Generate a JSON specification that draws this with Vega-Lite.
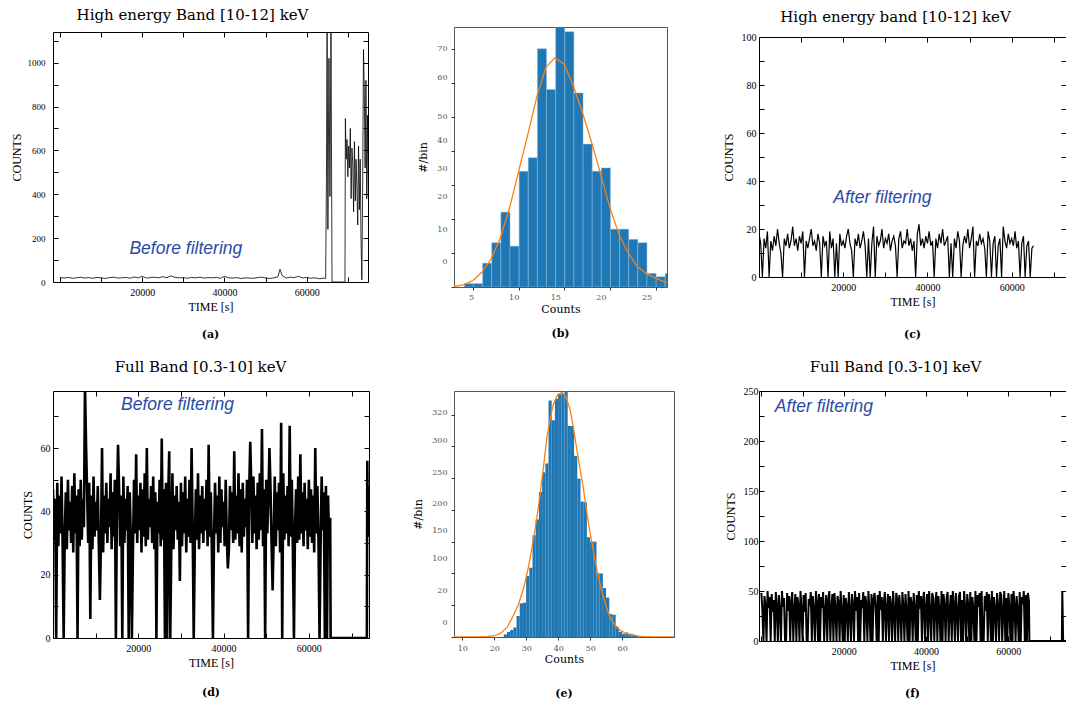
{
"$schema": "https://vega.github.io/schema/vega-lite/v6.json",
"background": "white",
"padding": {"left": 9, "top": 7, "right": 0, "bottom": 5},
"columns": 3,
"spacing": {"row": 104, "column": 85},
"bounds": "flush",
"align": "each",
"center": {"row": true, "column": false},
"config": {
 "title": {"font": "DejaVu Serif", "fontSize": 11, "fontWeight": "bold", "color": "black"},
 "axis": {"grid": false, "domain": false, "labelColor": "black", "titleColor": "black", "tickColor": "black", "titleFontWeight": "normal", "labelFont": "Liberation Serif", "titleFont": "Liberation Serif", "labelFontSize": 10, "titleFontSize": 12, "labelFlush": false, "labelOverlap": false, "labelBound": false, "tickWidth": 1}
},
"datasets": {
"a": [{"t":0,"c":20},{"t":1000,"c":18},{"t":2000,"c":21},{"t":3000,"c":17},{"t":4000,"c":19},{"t":5000,"c":22},{"t":6000,"c":18},{"t":7000,"c":20},{"t":8000,"c":17},{"t":9000,"c":21},{"t":10000,"c":19},{"t":11000,"c":16},{"t":12000,"c":20},{"t":13000,"c":22},{"t":14000,"c":18},{"t":15000,"c":19},{"t":16000,"c":21},{"t":17000,"c":17},{"t":18000,"c":23},{"t":19000,"c":19},{"t":20000,"c":26},{"t":21000,"c":18},{"t":22000,"c":20},{"t":23000,"c":22},{"t":24000,"c":19},{"t":25000,"c":24},{"t":26000,"c":20},{"t":27000,"c":28},{"t":28000,"c":21},{"t":29000,"c":19},{"t":30000,"c":20},{"t":31000,"c":17},{"t":32000,"c":21},{"t":33000,"c":19},{"t":34000,"c":22},{"t":35000,"c":18},{"t":36000,"c":20},{"t":37000,"c":19},{"t":38000,"c":21},{"t":39000,"c":17},{"t":40000,"c":26},{"t":41000,"c":19},{"t":42000,"c":18},{"t":43000,"c":20},{"t":44000,"c":16},{"t":45000,"c":19},{"t":46000,"c":18},{"t":47000,"c":17},{"t":48000,"c":20},{"t":49000,"c":22},{"t":50000,"c":18},{"t":51000,"c":16},{"t":52000,"c":19},{"t":53000,"c":24},{"t":53500,"c":58},{"t":54000,"c":30},{"t":55000,"c":18},{"t":56000,"c":22},{"t":57000,"c":20},{"t":58000,"c":26},{"t":59000,"c":18},{"t":60000,"c":21},{"t":61000,"c":17},{"t":62000,"c":19},{"t":63000,"c":15},{"t":64000,"c":18},{"t":64600,"c":16},{"t":64800,"c":480},{"t":64950,"c":1200},{"t":65150,"c":240},{"t":65400,"c":1020},{"t":65650,"c":390},{"t":65900,"c":1200},{"t":66150,"c":0},{"t":69300,"c":0},{"t":69400,"c":745},{"t":69600,"c":560},{"t":69800,"c":650},{"t":70000,"c":480},{"t":70200,"c":620},{"t":70400,"c":520},{"t":70600,"c":700},{"t":70800,"c":380},{"t":71000,"c":610},{"t":71200,"c":540},{"t":71400,"c":320},{"t":71600,"c":640},{"t":71800,"c":370},{"t":72000,"c":560},{"t":72200,"c":430},{"t":72400,"c":260},{"t":72600,"c":620},{"t":72800,"c":330},{"t":73000,"c":560},{"t":73200,"c":200},{"t":73400,"c":10},{"t":73600,"c":420},{"t":73800,"c":1060},{"t":74000,"c":870},{"t":74200,"c":520},{"t":74400,"c":920},{"t":74600,"c":380},{"t":74800,"c":760},{"t":75000,"c":420}],
"bh": [{"lo":4,"hi":5,"n":1},{"lo":5,"hi":6,"n":1},{"lo":6,"hi":7,"n":7},{"lo":7,"hi":8,"n":13},{"lo":8,"hi":9,"n":22},{"lo":9,"hi":10,"n":12},{"lo":10,"hi":11,"n":34},{"lo":11,"hi":12,"n":38},{"lo":12,"hi":13,"n":70},{"lo":13,"hi":14,"n":58},{"lo":14,"hi":15,"n":78},{"lo":15,"hi":16,"n":75},{"lo":16,"hi":17,"n":57},{"lo":17,"hi":18,"n":42},{"lo":18,"hi":19,"n":34},{"lo":19,"hi":20,"n":35},{"lo":20,"hi":21,"n":17},{"lo":21,"hi":22,"n":17},{"lo":22,"hi":23,"n":14},{"lo":23,"hi":24,"n":13},{"lo":24,"hi":25,"n":4},{"lo":25,"hi":26,"n":3},{"lo":26,"hi":27,"n":4}],
"bf": [{"x":2.92,"f":0.1},{"x":4,"f":0.7},{"x":5,"f":1.9},{"x":6,"f":4.4},{"x":7,"f":8.3},{"x":8,"f":14.4},{"x":9,"f":23.2},{"x":10,"f":34},{"x":11,"f":44.8},{"x":12,"f":56},{"x":13,"f":64.6},{"x":14,"f":67.4},{"x":15,"f":65.4},{"x":16,"f":59},{"x":17,"f":51.2},{"x":18,"f":42.4},{"x":19,"f":33},{"x":20,"f":23.2},{"x":21,"f":15.4},{"x":22,"f":10},{"x":23,"f":6},{"x":24,"f":3.9},{"x":25,"f":2.6},{"x":26,"f":1.5},{"x":26.25,"f":1.3}],
"c": [{"t":0,"c":18},{"t":400,"c":14},{"t":800,"c":0},{"t":1200,"c":16},{"t":1600,"c":12},{"t":2000,"c":19},{"t":2400,"c":0},{"t":2800,"c":15},{"t":3200,"c":11},{"t":3600,"c":17},{"t":4000,"c":13},{"t":4400,"c":20},{"t":4800,"c":14},{"t":5200,"c":10},{"t":5600,"c":0},{"t":6000,"c":16},{"t":6400,"c":13},{"t":6800,"c":18},{"t":7200,"c":12},{"t":7600,"c":15},{"t":8000,"c":21},{"t":8400,"c":13},{"t":8800,"c":16},{"t":9200,"c":11},{"t":9600,"c":17},{"t":10000,"c":14},{"t":10400,"c":19},{"t":10800,"c":0},{"t":11200,"c":15},{"t":11600,"c":12},{"t":12000,"c":16},{"t":12400,"c":20},{"t":12800,"c":13},{"t":13200,"c":15},{"t":13600,"c":11},{"t":14000,"c":18},{"t":14400,"c":14},{"t":14800,"c":0},{"t":15200,"c":17},{"t":15600,"c":13},{"t":16000,"c":15},{"t":16400,"c":0},{"t":16800,"c":19},{"t":17200,"c":12},{"t":17600,"c":16},{"t":18000,"c":0},{"t":18400,"c":14},{"t":18800,"c":0},{"t":19200,"c":18},{"t":19600,"c":13},{"t":20000,"c":15},{"t":20400,"c":12},{"t":20800,"c":17},{"t":21200,"c":20},{"t":21600,"c":14},{"t":22000,"c":11},{"t":22400,"c":0},{"t":22800,"c":16},{"t":23200,"c":13},{"t":23600,"c":18},{"t":24000,"c":12},{"t":24400,"c":15},{"t":24800,"c":19},{"t":25200,"c":13},{"t":25600,"c":0},{"t":26000,"c":16},{"t":26400,"c":0},{"t":26800,"c":14},{"t":27200,"c":21},{"t":27600,"c":0},{"t":28000,"c":17},{"t":28400,"c":13},{"t":28800,"c":15},{"t":29200,"c":20},{"t":29600,"c":12},{"t":30000,"c":16},{"t":30400,"c":14},{"t":30800,"c":18},{"t":31200,"c":11},{"t":31600,"c":15},{"t":32000,"c":17},{"t":32400,"c":13},{"t":32800,"c":0},{"t":33200,"c":16},{"t":33600,"c":19},{"t":34000,"c":12},{"t":34400,"c":15},{"t":34800,"c":14},{"t":35200,"c":20},{"t":35600,"c":13},{"t":36000,"c":16},{"t":36400,"c":11},{"t":36800,"c":15},{"t":37200,"c":0},{"t":37600,"c":18},{"t":38000,"c":22},{"t":38400,"c":13},{"t":38800,"c":16},{"t":39200,"c":12},{"t":39600,"c":17},{"t":40000,"c":14},{"t":40400,"c":19},{"t":40800,"c":13},{"t":41200,"c":15},{"t":41600,"c":0},{"t":42000,"c":16},{"t":42400,"c":12},{"t":42800,"c":18},{"t":43200,"c":14},{"t":43600,"c":20},{"t":44000,"c":13},{"t":44400,"c":15},{"t":44800,"c":17},{"t":45200,"c":0},{"t":45600,"c":14},{"t":46000,"c":0},{"t":46400,"c":16},{"t":46800,"c":12},{"t":47200,"c":19},{"t":47600,"c":15},{"t":48000,"c":0},{"t":48400,"c":13},{"t":48800,"c":17},{"t":49200,"c":14},{"t":49600,"c":20},{"t":50000,"c":12},{"t":50400,"c":16},{"t":50800,"c":21},{"t":51200,"c":0},{"t":51600,"c":15},{"t":52000,"c":13},{"t":52400,"c":18},{"t":52800,"c":14},{"t":53200,"c":16},{"t":53600,"c":12},{"t":54000,"c":0},{"t":54400,"c":19},{"t":54800,"c":15},{"t":55200,"c":0},{"t":55600,"c":14},{"t":56000,"c":17},{"t":56400,"c":0},{"t":56800,"c":13},{"t":57200,"c":16},{"t":57600,"c":0},{"t":58000,"c":21},{"t":58400,"c":15},{"t":58800,"c":12},{"t":59200,"c":18},{"t":59600,"c":14},{"t":60000,"c":16},{"t":60400,"c":13},{"t":60800,"c":19},{"t":61200,"c":12},{"t":61600,"c":15},{"t":62000,"c":0},{"t":62400,"c":14},{"t":62800,"c":17},{"t":63200,"c":0},{"t":63600,"c":13},{"t":64000,"c":15},{"t":64400,"c":0},{"t":64800,"c":12},{"t":65200,"c":13}],
"d": [{"t":0,"c":47},{"t":250,"c":31},{"t":500,"c":44},{"t":750,"c":0},{"t":1000,"c":49},{"t":1250,"c":29},{"t":1500,"c":45},{"t":1750,"c":33},{"t":2000,"c":51},{"t":2250,"c":30},{"t":2500,"c":0},{"t":2750,"c":32},{"t":3000,"c":46},{"t":3250,"c":28},{"t":3500,"c":50},{"t":3750,"c":34},{"t":4000,"c":43},{"t":4250,"c":30},{"t":4500,"c":48},{"t":4750,"c":27},{"t":5000,"c":52},{"t":5250,"c":33},{"t":5500,"c":45},{"t":5750,"c":0},{"t":6000,"c":47},{"t":6250,"c":29},{"t":6500,"c":50},{"t":6750,"c":31},{"t":7000,"c":44},{"t":7250,"c":35},{"t":7500,"c":80},{"t":7750,"c":61},{"t":8000,"c":46},{"t":8250,"c":30},{"t":8500,"c":49},{"t":8750,"c":6},{"t":9000,"c":45},{"t":9250,"c":28},{"t":9500,"c":51},{"t":9750,"c":32},{"t":10000,"c":43},{"t":10250,"c":34},{"t":10500,"c":48},{"t":10750,"c":29},{"t":11000,"c":12},{"t":11250,"c":31},{"t":11500,"c":60},{"t":11750,"c":27},{"t":12000,"c":45},{"t":12250,"c":33},{"t":12500,"c":49},{"t":12750,"c":30},{"t":13000,"c":44},{"t":13250,"c":35},{"t":13500,"c":52},{"t":13750,"c":28},{"t":14000,"c":46},{"t":14250,"c":32},{"t":14500,"c":50},{"t":14750,"c":0},{"t":15000,"c":43},{"t":15250,"c":61},{"t":15500,"c":47},{"t":15750,"c":29},{"t":16000,"c":45},{"t":16250,"c":0},{"t":16500,"c":51},{"t":16750,"c":30},{"t":17000,"c":44},{"t":17250,"c":34},{"t":17500,"c":48},{"t":17750,"c":0},{"t":18000,"c":46},{"t":18250,"c":31},{"t":18500,"c":0},{"t":18750,"c":28},{"t":19000,"c":50},{"t":19250,"c":33},{"t":19500,"c":58},{"t":19750,"c":30},{"t":20000,"c":45},{"t":20250,"c":34},{"t":20500,"c":49},{"t":20750,"c":27},{"t":21000,"c":47},{"t":21250,"c":32},{"t":21500,"c":52},{"t":21750,"c":29},{"t":22000,"c":60},{"t":22250,"c":31},{"t":22500,"c":44},{"t":22750,"c":35},{"t":23000,"c":48},{"t":23250,"c":30},{"t":23500,"c":51},{"t":23750,"c":28},{"t":24000,"c":46},{"t":24250,"c":0},{"t":24500,"c":43},{"t":24750,"c":33},{"t":25000,"c":50},{"t":25250,"c":29},{"t":25500,"c":63},{"t":25750,"c":31},{"t":26000,"c":47},{"t":26250,"c":0},{"t":26500,"c":49},{"t":26750,"c":0},{"t":27000,"c":44},{"t":27250,"c":59},{"t":27500,"c":0},{"t":27750,"c":30},{"t":28000,"c":52},{"t":28250,"c":28},{"t":28500,"c":45},{"t":28750,"c":34},{"t":29000,"c":48},{"t":29250,"c":31},{"t":29500,"c":43},{"t":29750,"c":18},{"t":30000,"c":49},{"t":30250,"c":29},{"t":30500,"c":46},{"t":30750,"c":33},{"t":31000,"c":51},{"t":31250,"c":27},{"t":31500,"c":44},{"t":31750,"c":32},{"t":32000,"c":50},{"t":32250,"c":30},{"t":32500,"c":60},{"t":32750,"c":35},{"t":33000,"c":0},{"t":33250,"c":29},{"t":33500,"c":47},{"t":33750,"c":31},{"t":34000,"c":52},{"t":34250,"c":28},{"t":34500,"c":45},{"t":34750,"c":33},{"t":35000,"c":48},{"t":35250,"c":30},{"t":35500,"c":44},{"t":35750,"c":34},{"t":36000,"c":50},{"t":36250,"c":29},{"t":36500,"c":61},{"t":36750,"c":32},{"t":37000,"c":46},{"t":37250,"c":28},{"t":37500,"c":0},{"t":37750,"c":31},{"t":38000,"c":49},{"t":38250,"c":33},{"t":38500,"c":45},{"t":38750,"c":27},{"t":39000,"c":51},{"t":39250,"c":30},{"t":39500,"c":47},{"t":39750,"c":35},{"t":40000,"c":43},{"t":40250,"c":29},{"t":40500,"c":50},{"t":40750,"c":32},{"t":41000,"c":22},{"t":41250,"c":28},{"t":41500,"c":48},{"t":41750,"c":34},{"t":42000,"c":46},{"t":42250,"c":30},{"t":42500,"c":59},{"t":42750,"c":31},{"t":43000,"c":45},{"t":43250,"c":33},{"t":43500,"c":52},{"t":43750,"c":29},{"t":44000,"c":47},{"t":44250,"c":27},{"t":44500,"c":49},{"t":44750,"c":32},{"t":45000,"c":44},{"t":45250,"c":35},{"t":45500,"c":50},{"t":45750,"c":0},{"t":46000,"c":46},{"t":46250,"c":62},{"t":46500,"c":48},{"t":46750,"c":30},{"t":47000,"c":51},{"t":47250,"c":33},{"t":47500,"c":45},{"t":47750,"c":28},{"t":48000,"c":49},{"t":48250,"c":31},{"t":48500,"c":52},{"t":48750,"c":34},{"t":49000,"c":66},{"t":49250,"c":29},{"t":49500,"c":47},{"t":49750,"c":0},{"t":50000,"c":50},{"t":50250,"c":33},{"t":50500,"c":44},{"t":50750,"c":60},{"t":51000,"c":48},{"t":51250,"c":30},{"t":51500,"c":15},{"t":51750,"c":32},{"t":52000,"c":51},{"t":52250,"c":29},{"t":52500,"c":46},{"t":52750,"c":34},{"t":53000,"c":49},{"t":53250,"c":27},{"t":53500,"c":68},{"t":53750,"c":0},{"t":54000,"c":52},{"t":54250,"c":31},{"t":54500,"c":45},{"t":54750,"c":33},{"t":55000,"c":48},{"t":55250,"c":29},{"t":55500,"c":67},{"t":55750,"c":32},{"t":56000,"c":50},{"t":56250,"c":28},{"t":56500,"c":0},{"t":56750,"c":35},{"t":57000,"c":47},{"t":57250,"c":30},{"t":57500,"c":51},{"t":57750,"c":31},{"t":58000,"c":58},{"t":58250,"c":33},{"t":58500,"c":46},{"t":58750,"c":29},{"t":59000,"c":49},{"t":59250,"c":34},{"t":59500,"c":44},{"t":59750,"c":28},{"t":60000,"c":50},{"t":60250,"c":32},{"t":60500,"c":47},{"t":60750,"c":30},{"t":61000,"c":45},{"t":61250,"c":27},{"t":61500,"c":60},{"t":61750,"c":33},{"t":62000,"c":48},{"t":62250,"c":31},{"t":62500,"c":0},{"t":62750,"c":29},{"t":63000,"c":51},{"t":63250,"c":34},{"t":63500,"c":46},{"t":63750,"c":0},{"t":64000,"c":48},{"t":64250,"c":0},{"t":64500,"c":45},{"t":64750,"c":30},{"t":65000,"c":38},{"t":65100,"c":0},{"t":73600,"c":0},{"t":73700,"c":56},{"t":73850,"c":32},{"t":74000,"c":48}],
"eh": [{"lo":22.8,"hi":23.8,"n":4},{"lo":23.8,"hi":24.8,"n":8},{"lo":24.8,"hi":25.8,"n":11},{"lo":25.8,"hi":26.8,"n":15},{"lo":26.8,"hi":27.8,"n":33},{"lo":27.8,"hi":28.8,"n":53},{"lo":28.8,"hi":29.8,"n":54},{"lo":29.8,"hi":30.8,"n":96},{"lo":30.8,"hi":31.8,"n":109},{"lo":31.8,"hi":32.8,"n":160},{"lo":32.8,"hi":33.8,"n":185},{"lo":33.8,"hi":34.8,"n":228},{"lo":34.8,"hi":35.8,"n":259},{"lo":35.8,"hi":36.8,"n":273},{"lo":36.8,"hi":37.8,"n":372},{"lo":37.8,"hi":38.8,"n":341},{"lo":38.8,"hi":39.8,"n":375},{"lo":39.8,"hi":40.8,"n":382},{"lo":40.8,"hi":41.8,"n":383},{"lo":41.8,"hi":42.8,"n":395},{"lo":42.8,"hi":43.8,"n":332},{"lo":43.8,"hi":44.8,"n":332},{"lo":44.8,"hi":45.8,"n":285},{"lo":45.8,"hi":46.8,"n":249},{"lo":46.8,"hi":47.8,"n":213},{"lo":47.8,"hi":48.8,"n":212},{"lo":48.8,"hi":49.8,"n":157},{"lo":49.8,"hi":50.8,"n":150},{"lo":50.8,"hi":51.8,"n":150},{"lo":51.8,"hi":52.8,"n":100},{"lo":52.8,"hi":53.8,"n":100},{"lo":53.8,"hi":54.8,"n":77},{"lo":54.8,"hi":55.8,"n":62},{"lo":55.8,"hi":56.8,"n":36},{"lo":56.8,"hi":57.8,"n":35},{"lo":57.8,"hi":58.8,"n":16},{"lo":58.8,"hi":59.8,"n":8},{"lo":59.8,"hi":60.8,"n":5},{"lo":60.8,"hi":61.8,"n":7},{"lo":61.8,"hi":62.8,"n":5},{"lo":62.8,"hi":63.8,"n":4},{"lo":63.8,"hi":64.8,"n":2}],
"ef": [{"x":7.4,"f":0},{"x":15,"f":0.2},{"x":18,"f":0.8},{"x":20,"f":2},{"x":22,"f":6},{"x":24,"f":15},{"x":26.1,"f":35},{"x":27.6,"f":52},{"x":29.2,"f":77},{"x":30.8,"f":113},{"x":32.3,"f":155},{"x":33.3,"f":188},{"x":34.3,"f":223},{"x":35.4,"f":268},{"x":36.4,"f":312},{"x":37.4,"f":342},{"x":38.4,"f":365},{"x":39.8,"f":381},{"x":41.2,"f":385},{"x":42.4,"f":377},{"x":43.6,"f":360},{"x":44.6,"f":333},{"x":45.6,"f":302},{"x":46.6,"f":271},{"x":47.7,"f":239},{"x":48.7,"f":204},{"x":49.7,"f":171},{"x":50.8,"f":140},{"x":51.8,"f":113},{"x":52.8,"f":89},{"x":53.8,"f":69},{"x":54.9,"f":50},{"x":55.9,"f":35},{"x":56.9,"f":25},{"x":57.9,"f":18},{"x":59.5,"f":10},{"x":61,"f":6},{"x":63,"f":3},{"x":66,"f":1},{"x":70,"f":0.3},{"x":76.2,"f":0}],
"f": [{"t":0,"c":48},{"t":250,"c":30},{"t":500,"c":0},{"t":750,"c":45},{"t":1000,"c":36},{"t":1250,"c":0},{"t":1500,"c":50},{"t":1750,"c":33},{"t":2000,"c":44},{"t":2250,"c":0},{"t":2500,"c":47},{"t":2750,"c":29},{"t":3000,"c":41},{"t":3250,"c":0},{"t":3500,"c":49},{"t":3750,"c":35},{"t":4000,"c":0},{"t":4250,"c":46},{"t":4500,"c":31},{"t":4750,"c":0},{"t":5000,"c":50},{"t":5250,"c":34},{"t":5500,"c":43},{"t":5750,"c":0},{"t":6000,"c":0},{"t":6250,"c":48},{"t":6500,"c":30},{"t":6750,"c":45},{"t":7000,"c":0},{"t":7250,"c":39},{"t":7500,"c":49},{"t":7750,"c":0},{"t":8000,"c":32},{"t":8250,"c":47},{"t":8500,"c":0},{"t":8750,"c":44},{"t":9000,"c":36},{"t":9250,"c":0},{"t":9500,"c":50},{"t":9750,"c":31},{"t":10000,"c":0},{"t":10250,"c":46},{"t":10500,"c":29},{"t":10750,"c":48},{"t":11000,"c":0},{"t":11250,"c":0},{"t":11500,"c":42},{"t":11750,"c":35},{"t":12000,"c":49},{"t":12250,"c":0},{"t":12500,"c":45},{"t":12750,"c":31},{"t":13000,"c":0},{"t":13250,"c":50},{"t":13500,"c":38},{"t":13750,"c":0},{"t":14000,"c":47},{"t":14250,"c":0},{"t":14500,"c":44},{"t":14750,"c":33},{"t":15000,"c":49},{"t":15250,"c":0},{"t":15500,"c":30},{"t":15750,"c":46},{"t":16000,"c":0},{"t":16250,"c":41},{"t":16500,"c":50},{"t":16750,"c":0},{"t":17000,"c":34},{"t":17250,"c":47},{"t":17500,"c":0},{"t":17750,"c":48},{"t":18000,"c":32},{"t":18250,"c":0},{"t":18500,"c":45},{"t":18750,"c":39},{"t":19000,"c":0},{"t":19250,"c":50},{"t":19500,"c":29},{"t":19750,"c":0},{"t":20000,"c":46},{"t":20250,"c":0},{"t":20500,"c":43},{"t":20750,"c":35},{"t":21000,"c":0},{"t":21250,"c":49},{"t":21500,"c":31},{"t":21750,"c":0},{"t":22000,"c":47},{"t":22250,"c":36},{"t":22500,"c":0},{"t":22750,"c":50},{"t":23000,"c":30},{"t":23250,"c":44},{"t":23500,"c":0},{"t":23750,"c":48},{"t":24000,"c":0},{"t":24250,"c":41},{"t":24500,"c":33},{"t":24750,"c":49},{"t":25000,"c":0},{"t":25250,"c":45},{"t":25500,"c":37},{"t":25750,"c":0},{"t":26000,"c":50},{"t":26250,"c":30},{"t":26500,"c":0},{"t":26750,"c":47},{"t":27000,"c":0},{"t":27250,"c":42},{"t":27500,"c":48},{"t":27750,"c":34},{"t":28000,"c":0},{"t":28250,"c":46},{"t":28500,"c":0},{"t":28750,"c":50},{"t":29000,"c":31},{"t":29250,"c":44},{"t":29500,"c":0},{"t":29750,"c":39},{"t":30000,"c":49},{"t":30250,"c":0},{"t":30500,"c":33},{"t":30750,"c":47},{"t":31000,"c":0},{"t":31250,"c":45},{"t":31500,"c":36},{"t":31750,"c":0},{"t":32000,"c":50},{"t":32250,"c":29},{"t":32500,"c":0},{"t":32750,"c":48},{"t":33000,"c":42},{"t":33250,"c":0},{"t":33500,"c":46},{"t":33750,"c":31},{"t":34000,"c":0},{"t":34250,"c":49},{"t":34500,"c":35},{"t":34750,"c":0},{"t":35000,"c":47},{"t":35250,"c":30},{"t":35500,"c":0},{"t":35750,"c":50},{"t":36000,"c":0},{"t":36250,"c":44},{"t":36500,"c":38},{"t":36750,"c":0},{"t":37000,"c":48},{"t":37250,"c":33},{"t":37500,"c":0},{"t":37750,"c":46},{"t":38000,"c":0},{"t":38250,"c":50},{"t":38500,"c":32},{"t":38750,"c":45},{"t":39000,"c":0},{"t":39250,"c":41},{"t":39500,"c":49},{"t":39750,"c":0},{"t":40000,"c":34},{"t":40250,"c":47},{"t":40500,"c":0},{"t":40750,"c":50},{"t":41000,"c":30},{"t":41250,"c":0},{"t":41500,"c":48},{"t":41750,"c":43},{"t":42000,"c":0},{"t":42250,"c":36},{"t":42500,"c":49},{"t":42750,"c":0},{"t":43000,"c":45},{"t":43250,"c":31},{"t":43500,"c":0},{"t":43750,"c":50},{"t":44000,"c":0},{"t":44250,"c":47},{"t":44500,"c":35},{"t":44750,"c":0},{"t":45000,"c":44},{"t":45250,"c":49},{"t":45500,"c":0},{"t":45750,"c":32},{"t":46000,"c":46},{"t":46250,"c":0},{"t":46500,"c":50},{"t":46750,"c":37},{"t":47000,"c":0},{"t":47250,"c":48},{"t":47500,"c":30},{"t":47750,"c":0},{"t":48000,"c":45},{"t":48250,"c":49},{"t":48500,"c":0},{"t":48750,"c":41},{"t":49000,"c":0},{"t":49250,"c":50},{"t":49500,"c":33},{"t":49750,"c":0},{"t":50000,"c":47},{"t":50250,"c":36},{"t":50500,"c":0},{"t":50750,"c":49},{"t":51000,"c":0},{"t":51250,"c":44},{"t":51500,"c":31},{"t":51750,"c":0},{"t":52000,"c":50},{"t":52250,"c":0},{"t":52500,"c":46},{"t":52750,"c":34},{"t":53000,"c":48},{"t":53250,"c":0},{"t":53500,"c":50},{"t":53750,"c":0},{"t":54000,"c":0},{"t":54250,"c":45},{"t":54500,"c":30},{"t":54750,"c":49},{"t":55000,"c":0},{"t":55250,"c":47},{"t":55500,"c":38},{"t":55750,"c":0},{"t":56000,"c":50},{"t":56250,"c":0},{"t":56500,"c":44},{"t":56750,"c":32},{"t":57000,"c":0},{"t":57250,"c":48},{"t":57500,"c":35},{"t":57750,"c":0},{"t":58000,"c":49},{"t":58250,"c":46},{"t":58500,"c":0},{"t":58750,"c":30},{"t":59000,"c":50},{"t":59250,"c":0},{"t":59500,"c":43},{"t":59750,"c":0},{"t":60000,"c":48},{"t":60250,"c":33},{"t":60500,"c":0},{"t":60750,"c":47},{"t":61000,"c":0},{"t":61250,"c":50},{"t":61500,"c":36},{"t":61750,"c":0},{"t":62000,"c":45},{"t":62250,"c":31},{"t":62500,"c":0},{"t":62750,"c":49},{"t":63000,"c":0},{"t":63250,"c":44},{"t":63500,"c":37},{"t":63750,"c":50},{"t":64000,"c":0},{"t":64250,"c":46},{"t":64500,"c":0},{"t":64750,"c":48},{"t":65000,"c":40},{"t":65100,"c":0},{"t":73000,"c":0},{"t":73100,"c":50},{"t":73200,"c":26},{"t":73300,"c":0},{"t":74000,"c":0}]
},
"concat": [
{
 "width": 315, "height": 250,
 "view": {"stroke": "black", "strokeWidth": 1},
 "title": {"text": "(a)", "orient": "bottom", "offset": 17},
 "layer": [
  {"data": {"name": "a"}, "mark": {"type": "line", "color": "black", "strokeWidth": 0.8, "clip": true},
   "encoding": {
    "x": {"field": "t", "type": "quantitative", "scale": {"domain": [-1700, 74900], "nice": false, "zero": false},
     "axis": {"orient": "bottom", "title": "TIME [s]", "format": "d", "values": [0,10000,20000,30000,40000,50000,60000,70000], "labelExpr": "datum.value % 20000 == 0 && datum.value > 0 ? datum.label : ''", "tickSize": -5, "labelPadding": 10, "titlePadding": 4}},
    "y": {"field": "c", "type": "quantitative", "scale": {"domain": [0, 1140], "nice": false},
     "axis": {"orient": "left", "title": "COUNTS", "format": "d", "values": [0,100,200,300,400,500,600,700,800,900,1000,1100], "labelExpr": "datum.value % 200 == 0 ? datum.label : ''", "tickSize": -5, "labelPadding": 13, "titlePadding": 4, "labelFontSize": 9}}
   }},
  {"data": {"values": [{"t": 30600, "c": 151, "note": "Before filtering"}]},
   "mark": {"type": "text", "font": "Liberation Sans", "fontStyle": "italic", "fontSize": 17.5, "color": "#2a4aa8"},
   "encoding": {
    "x": {"field": "t", "type": "quantitative", "axis": {"orient": "top", "title": "High energy Band [10-12] keV", "labels": false, "values": [0,10000,20000,30000,40000,50000,60000,70000], "tickSize": -5, "titleFont": "DejaVu Serif", "titleFontSize": 15, "titlePadding": 9, "titleX": 139}},
    "y": {"field": "c", "type": "quantitative", "axis": {"orient": "right", "title": null, "labels": false, "values": [0,100,200,300,400,500,600,700,800,900,1000,1100], "tickSize": -5}},
    "text": {"field": "note"}
   }}
 ],
 "resolve": {"axis": {"x": "independent", "y": "independent"}}
},
{
 "width": 213, "height": 260,
 "view": {"stroke": "#555", "strokeWidth": 1},
 "title": {"text": "(b)", "orient": "bottom", "offset": 14},
 "layer": [
  {"data": {"name": "bh"}, "mark": {"type": "bar", "color": "#1f77b4", "stroke": "#8fbde3", "strokeWidth": 0.5, "binSpacing": 0, "clip": true},
   "encoding": {
    "x": {"field": "lo", "type": "quantitative", "bin": "binned", "scale": {"domain": [2.92, 26.25], "nice": false, "zero": false},
     "axis": {"title": "Counts", "values": [5,10,15,20,25], "format": "d", "tickSize": 3, "labelPadding": 3, "labelFont": "DejaVu Serif", "labelFontSize": 8, "labelColor": "#555", "titleFont": "DejaVu Serif", "titleFontSize": 11, "titlePadding": 2, "tickColor": "#333",
      "labelOffset": {"condition": [{"test": "datum.value == 5", "value": -2}, {"test": "datum.value == 10", "value": -5}, {"test": "datum.value >= 15", "value": -9}], "value": 0}}},
    "x2": {"field": "hi"},
    "y": {"field": "n", "type": "quantitative", "scale": {"domain": [0, 76.4], "nice": false},
     "axis": {"orient": "left", "title": "#/bin", "values": [0,20,40,60], "tickSize": 3, "labelPadding": 4, "labelFont": "DejaVu Serif", "labelFontSize": 8, "labelColor": "#555", "titleFont": "DejaVu Serif", "titleFontSize": 11, "titlePadding": 8, "tickColor": "#333",
      "labelOffset": {"condition": [{"test": "datum.value == 0", "value": -26}, {"test": "datum.value == 20", "value": -22}, {"test": "datum.value == 40", "value": -10}], "value": -5}}}
   }},
  {"data": {"name": "bf"}, "mark": {"type": "line", "color": "#ff7f0e", "strokeWidth": 1.3, "clip": true},
   "encoding": {"x": {"field": "x", "type": "quantitative"},
    "y": {"field": "f", "type": "quantitative", "axis": {"orient": "left", "title": null, "values": [10,30,50,70], "tickSize": 3, "labelPadding": 4, "labelFont": "DejaVu Serif", "labelFontSize": 8, "labelColor": "#555", "tickColor": "#333",
      "labelOffset": {"condition": [{"test": "datum.value == 10", "value": -23}, {"test": "datum.value == 30", "value": -16}], "value": 0}}}}}
 ],
 "resolve": {"axis": {"y": "independent"}}
},
{
 "width": 307, "height": 240,
 "view": {"stroke": "black", "strokeWidth": 1},
 "title": {"text": "(c)", "orient": "bottom", "offset": 22},
 "layer": [
  {"data": {"name": "c"}, "mark": {"type": "line", "color": "black", "strokeWidth": 1.2, "clip": true},
   "encoding": {
    "x": {"field": "t", "type": "quantitative", "scale": {"domain": [0, 72900], "nice": false, "zero": false},
     "axis": {"orient": "bottom", "title": "TIME [s]", "format": "d", "values": [10000,20000,30000,40000,50000,60000,70000], "labelExpr": "datum.value % 20000 == 0 ? datum.label : ''", "tickSize": -5, "labelPadding": 10, "titlePadding": 4}},
    "y": {"field": "c", "type": "quantitative", "scale": {"domain": [0, 100], "nice": false},
     "axis": {"orient": "left", "title": "COUNTS", "format": "d", "values": [0,10,20,30,40,50,60,70,80,90,100], "labelExpr": "datum.value % 20 == 0 ? datum.label : ''", "tickSize": -5, "labelPadding": 8, "titlePadding": 6}}
   }},
  {"data": {"values": [{"t": 29300, "c": 33, "note": "After filtering"}]},
   "mark": {"type": "text", "font": "Liberation Sans", "fontStyle": "italic", "fontSize": 17.5, "color": "#2a4aa8"},
   "encoding": {
    "x": {"field": "t", "type": "quantitative", "axis": {"orient": "top", "title": "High energy band [10-12] keV", "labels": false, "values": [10000,20000,30000,40000,50000,60000,70000], "tickSize": -5, "titleFont": "DejaVu Serif", "titleFontSize": 15, "titlePadding": 12, "titleX": 136}},
    "y": {"field": "c", "type": "quantitative", "axis": {"orient": "right", "title": null, "labels": false, "values": [0,10,20,30,40,50,60,70,80,90,100], "tickSize": -5}},
    "text": {"field": "note"}
   }}
 ],
 "resolve": {"axis": {"x": "independent", "y": "independent"}}
},
{
 "width": 316, "height": 247,
 "view": {"stroke": "black", "strokeWidth": 1},
 "title": {"text": "(d)", "orient": "bottom", "offset": 19},
 "layer": [
  {"data": {"name": "d"}, "mark": {"type": "line", "color": "black", "strokeWidth": 2.6, "clip": true},
   "encoding": {
    "x": {"field": "t", "type": "quantitative", "scale": {"domain": [0, 74100], "nice": false, "zero": false},
     "axis": {"orient": "bottom", "title": "TIME [s]", "format": "d", "values": [10000,20000,30000,40000,50000,60000,70000], "labelExpr": "datum.value % 20000 == 0 ? datum.label : ''", "tickSize": -5, "labelPadding": 10, "titlePadding": 4}},
    "y": {"field": "c", "type": "quantitative", "scale": {"domain": [0, 78], "nice": false},
     "axis": {"orient": "left", "title": "COUNTS", "format": "d", "values": [0,10,20,30,40,50,60,70], "labelExpr": "datum.value % 20 == 0 ? datum.label : ''", "tickSize": -5, "labelPadding": 8, "titlePadding": 6}}
   }},
  {"data": {"values": [{"t": 29200, "c": 73.6, "note": "Before filtering"}]},
   "mark": {"type": "text", "font": "Liberation Sans", "fontStyle": "italic", "fontSize": 17.5, "color": "#2a4aa8"},
   "encoding": {
    "x": {"field": "t", "type": "quantitative", "axis": {"orient": "top", "title": "Full Band [0.3-10] keV", "labels": false, "values": [10000,20000,30000,40000,50000,60000,70000], "tickSize": -5, "titleFont": "DejaVu Serif", "titleFontSize": 15, "titlePadding": 16, "titleX": 147}},
    "y": {"field": "c", "type": "quantitative", "axis": {"orient": "right", "title": null, "labels": false, "values": [0,10,20,30,40,50,60,70], "tickSize": -5}},
    "text": {"field": "note"}
   }}
 ],
 "resolve": {"axis": {"x": "independent", "y": "independent"}}
},
{
 "width": 220, "height": 246,
 "view": {"stroke": "#555", "strokeWidth": 1},
 "title": {"text": "(e)", "orient": "bottom", "offset": 24},
 "layer": [
  {"data": {"name": "eh"}, "mark": {"type": "bar", "color": "#1f77b4", "binSpacing": 0, "clip": true},
   "encoding": {
    "x": {"field": "lo", "type": "quantitative", "bin": "binned", "scale": {"domain": [7.4, 76.2], "nice": false, "zero": false},
     "axis": {"title": "Counts", "values": [10,20,30,40,50,60], "format": "d", "tickSize": 3, "labelPadding": 4, "labelFont": "DejaVu Serif", "labelFontSize": 8, "labelColor": "#555", "titleFont": "DejaVu Serif", "titleFontSize": 11, "titlePadding": 1, "tickColor": "#333"}},
    "x2": {"field": "hi"},
    "y": {"field": "n", "type": "quantitative", "scale": {"domain": [0, 387], "nice": false},
     "axis": {"orient": "left", "title": "#/bin", "values": [0,100,200,300], "tickSize": 3, "labelPadding": 4, "labelFont": "DejaVu Serif", "labelFontSize": 8, "labelColor": "#555", "titleFont": "DejaVu Serif", "titleFontSize": 11, "titlePadding": 8, "tickColor": "#333",
      "labelOffset": {"condition": [{"test": "datum.value >= 200", "value": -6}], "value": -15}}}
   }},
  {"data": {"name": "ef"}, "mark": {"type": "line", "color": "#ff7f0e", "strokeWidth": 1.3, "clip": true},
   "encoding": {"x": {"field": "x", "type": "quantitative"},
    "y": {"field": "f", "type": "quantitative", "axis": {"orient": "left", "title": null, "values": [50,150,250,350], "labelExpr": "datum.value == 350 ? '320' : datum.value == 50 ? '20' : datum.label", "tickSize": 3, "labelPadding": 4, "labelFont": "DejaVu Serif", "labelFontSize": 8, "labelColor": "#555", "tickColor": "#333",
      "labelOffset": {"condition": [{"test": "datum.value == 350", "value": -2}, {"test": "datum.value == 250", "value": -6}, {"test": "datum.value == 150", "value": -11}], "value": -15}}}}}
 ],
 "resolve": {"axis": {"y": "independent"}}
},
{
 "width": 307, "height": 250,
 "view": {"stroke": "black", "strokeWidth": 1},
 "title": {"text": "(f)", "orient": "bottom", "offset": 17},
 "layer": [
  {"data": {"name": "f"}, "mark": {"type": "line", "color": "black", "strokeWidth": 2, "clip": true},
   "encoding": {
    "x": {"field": "t", "type": "quantitative", "scale": {"domain": [-580, 74000], "nice": false, "zero": false},
     "axis": {"orient": "bottom", "title": "TIME [s]", "format": "d", "values": [0,10000,20000,30000,40000,50000,60000,70000], "labelExpr": "datum.value % 20000 == 0 && datum.value > 0 ? datum.label : ''", "tickSize": -5, "labelPadding": 10, "titlePadding": 4}},
    "y": {"field": "c", "type": "quantitative", "scale": {"domain": [0, 250], "nice": false},
     "axis": {"orient": "left", "title": "COUNTS", "format": "d", "values": [0,25,50,75,100,125,150,175,200,225,250], "labelExpr": "datum.value % 50 == 0 ? datum.label : ''", "tickSize": -5, "labelPadding": 6, "titlePadding": 6}}
   }},
  {"data": {"values": [{"t": 15200, "c": 234, "note": "After filtering"}]},
   "mark": {"type": "text", "font": "Liberation Sans", "fontStyle": "italic", "fontSize": 17.5, "color": "#2a4aa8"},
   "encoding": {
    "x": {"field": "t", "type": "quantitative", "axis": {"orient": "top", "title": "Full Band [0.3-10] keV", "labels": false, "values": [0,10000,20000,30000,40000,50000,60000,70000], "tickSize": -5, "titleFont": "DejaVu Serif", "titleFontSize": 15, "titlePadding": 16, "titleX": 136}},
    "y": {"field": "c", "type": "quantitative", "axis": {"orient": "right", "title": null, "labels": false, "values": [0,25,50,75,100,125,150,175,200,225,250], "tickSize": -5}},
    "text": {"field": "note"}
   }}
 ],
 "resolve": {"axis": {"x": "independent", "y": "independent"}}
}
]
}
